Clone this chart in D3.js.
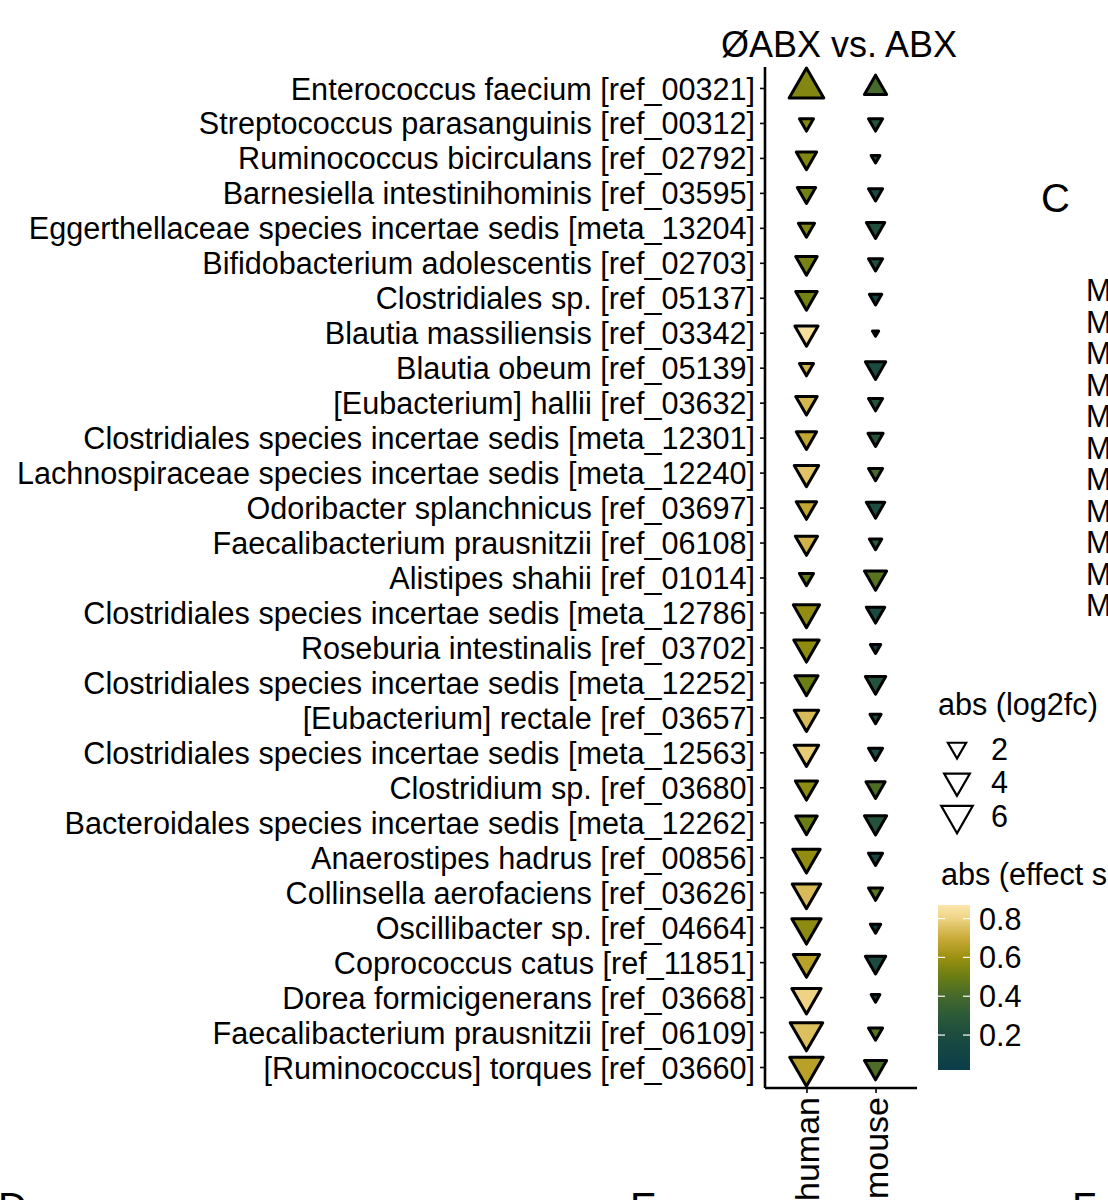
<!DOCTYPE html>
<html>
<head>
<meta charset="utf-8">
<script src="https://cdn.jsdelivr.net/npm/d3@7"></script>
<style>
  html, body { margin: 0; padding: 0; background: #fff; }
  svg text { font-family: "Liberation Sans", Arial, Helvetica, sans-serif; fill: #000; }
</style>
</head>
<body>
<svg id="chart" width="1108" height="1200"></svg>
<script>
// ---------------- data ----------------
const taxa = [
  "Enterococcus faecium [ref_00321]",
  "Streptococcus parasanguinis [ref_00312]",
  "Ruminococcus bicirculans [ref_02792]",
  "Barnesiella intestinihominis [ref_03595]",
  "Eggerthellaceae species incertae sedis [meta_13204]",
  "Bifidobacterium adolescentis [ref_02703]",
  "Clostridiales sp. [ref_05137]",
  "Blautia massiliensis [ref_03342]",
  "Blautia obeum [ref_05139]",
  "[Eubacterium] hallii [ref_03632]",
  "Clostridiales species incertae sedis [meta_12301]",
  "Lachnospiraceae species incertae sedis [meta_12240]",
  "Odoribacter splanchnicus [ref_03697]",
  "Faecalibacterium prausnitzii [ref_06108]",
  "Alistipes shahii [ref_01014]",
  "Clostridiales species incertae sedis [meta_12786]",
  "Roseburia intestinalis [ref_03702]",
  "Clostridiales species incertae sedis [meta_12252]",
  "[Eubacterium] rectale [ref_03657]",
  "Clostridiales species incertae sedis [meta_12563]",
  "Clostridium sp. [ref_03680]",
  "Bacteroidales species incertae sedis [meta_12262]",
  "Anaerostipes hadrus [ref_00856]",
  "Collinsella aerofaciens [ref_03626]",
  "Oscillibacter sp. [ref_04664]",
  "Coprococcus catus [ref_11851]",
  "Dorea formicigenerans [ref_03668]",
  "Faecalibacterium prausnitzii [ref_06109]",
  "[Ruminococcus] torques [ref_03660]"
];
const hosts = ["human", "mouse"];

// log2 fold change (sign gives triangle direction)
const humanLog2fc = [7.8,-1.3,-2.7,-2.2,-1.7,-3.0,-3.0,-3.5,-1.3,-3.0,-2.7,-3.9,-2.7,-3.2,-1.3,-4.5,-4.2,-3.5,-3.9,-3.9,-3.2,-3.0,-4.9,-5.3,-5.6,-4.5,-5.6,-6.9,-7.3];
const mouseLog2fc = [3.2,-1.3,-0.5,-1.3,-2.2,-1.3,-1.0,-0.25,-2.7,-1.3,-1.5,-1.3,-2.2,-1.0,-3.2,-2.2,-0.7,-2.7,-0.8,-1.3,-2.4,-3.2,-1.3,-1.3,-0.7,-2.7,-0.5,-1.3,-3.2];

// absolute effect size
const humanEffect = [0.55,0.55,0.55,0.52,0.55,0.53,0.52,0.84,0.72,0.73,0.68,0.76,0.68,0.72,0.48,0.58,0.57,0.50,0.74,0.78,0.57,0.50,0.58,0.74,0.57,0.66,0.80,0.75,0.66];
const mouseEffect = [0.40,0.25,0.20,0.17,0.22,0.22,0.10,0.07,0.18,0.25,0.26,0.40,0.20,0.30,0.45,0.17,0.08,0.24,0.20,0.17,0.42,0.25,0.15,0.45,0.05,0.18,0.10,0.45,0.42];

const sizeBreaks = [2, 4, 6];
const colorTicks = [0.2, 0.4, 0.6, 0.8];
const colorStops = [0.02, 0.2, 0.3, 0.4, 0.5, 0.6, 0.7, 0.8, 0.87];
const colorRange = ["#0b3d4a","#1d4c40","#2b5a38","#46692c","#6a7e14","#9c9010","#caab3a","#eed384","#fbe6ae"];
const rightLabels = ["M","M","M","M","M","M","M","M","M","M","M"];
const panelLetters = ["C", "D", "E", "F"];

// ---------------- build ----------------
const rows = [];
taxa.forEach((t, i) => {
  rows.push({taxon: t, host: "human", lfc: humanLog2fc[i], eff: humanEffect[i]});
  rows.push({taxon: t, host: "mouse", lfc: mouseLog2fc[i], eff: mouseEffect[i]});
});

const svg = d3.select("#chart");
const panel = {left: 765, right: 917, top: 67, bottom: 1088};
const FS = "30.6px";

const y = d3.scalePoint().domain(taxa).range([panel.top, panel.bottom]).padding(0.6);
const x = d3.scalePoint().domain(hosts).range([panel.left, panel.right]).padding(0.6);
const side = d3.scaleSqrt().domain([0, 8]).range([0, 12.4 * Math.sqrt(8)]);
const area = v => Math.sqrt(3) / 4 * Math.pow(side(Math.abs(v)), 2);
const color = d3.scaleLinear().domain(colorStops).range(colorRange).interpolate(d3.interpolateRgb).clamp(true);

// title
svg.append("text").attr("x", 839).attr("y", 57).attr("text-anchor", "middle")
  .style("font-size", "36px").text("ØABX vs. ABX");

// y axis
const yAxis = d3.axisLeft(y).tickSize(5).tickPadding(5);
const gy = svg.append("g").attr("transform", `translate(${panel.left},0)`).call(yAxis);
gy.select(".domain").attr("d", `M0,${panel.top}V${panel.bottom}`).attr("stroke", "#000").attr("stroke-width", 2.6);
gy.selectAll(".tick line").attr("stroke", "#000").attr("stroke-width", 1.6);
gy.selectAll(".tick text").style("font-size", FS).style("font-family", "'Liberation Sans', Arial, sans-serif").attr("fill", "#000").attr("dy", "0.36em");

// x axis
const xAxis = d3.axisBottom(x).tickSize(5).tickPadding(4);
const gx = svg.append("g").attr("transform", `translate(0,${panel.bottom})`).call(xAxis);
gx.select(".domain").attr("d", `M${panel.left},0H${panel.right}`).attr("stroke", "#000").attr("stroke-width", 2.6);
gx.selectAll(".tick line").attr("stroke", "#000").attr("stroke-width", 1.6);
gx.selectAll(".tick text")
  .style("font-size", "34px").style("font-family", "'Liberation Sans', Arial, sans-serif").attr("fill", "#000")
  .attr("text-anchor", "end").attr("dy", "0.36em")
  .attr("transform", "translate(0,9) rotate(-90)").attr("x", 0).attr("y", 0);

// points
svg.append("g").selectAll("path").data(rows).join("path")
  .attr("d", d => d3.symbol().type(d3.symbolTriangle).size(area(d.lfc))())
  .attr("transform", d => `translate(${x(d.host)},${y(d.taxon)}) rotate(${d.lfc < 0 ? 180 : 0})`)
  .attr("fill", d => color(d.eff))
  .attr("stroke", "#000").attr("stroke-width", 3).attr("stroke-linejoin", "round");

// size legend
const lg = svg.append("g");
lg.append("text").attr("x", 938).attr("y", 715).style("font-size", FS).text("abs (log2fc)");
const legendY = [748, 781, 815];
sizeBreaks.forEach((v, i) => {
  lg.append("path")
    .attr("d", d3.symbol().type(d3.symbolTriangle).size(area(v) * 1.08)())
    .attr("transform", `translate(957,${legendY[i]}) rotate(180)`)
    .attr("fill", "#fff").attr("stroke", "#000").attr("stroke-width", 2.2);
  lg.append("text").attr("x", 991).attr("y", legendY[i] + 1).attr("dy", "0.36em")
    .style("font-size", FS).text(v);
});

// color legend
lg.append("text").attr("x", 941).attr("y", 885).style("font-size", FS).text("abs (effect size)");
const cb = {x: 938, w: 32, top: 905, bottom: 1070};
const cy = d3.scaleLinear().domain([colorStops[0], colorStops[colorStops.length - 1]]).range([cb.bottom, cb.top]);
const defs = svg.append("defs");
const grad = defs.append("linearGradient").attr("id", "cbar").attr("x1", 0).attr("y1", 1).attr("x2", 0).attr("y2", 0);
d3.range(0, 1.0001, 0.02).forEach(t => {
  const v = cy.invert(cb.bottom - t * (cb.bottom - cb.top));
  grad.append("stop").attr("offset", t).attr("stop-color", color(v));
});
lg.append("rect").attr("x", cb.x).attr("y", cb.top).attr("width", cb.w).attr("height", cb.bottom - cb.top).attr("fill", "url(#cbar)");
colorTicks.forEach(v => {
  lg.append("line").attr("x1", cb.x + cb.w - 7).attr("x2", cb.x + cb.w).attr("y1", cy(v)).attr("y2", cy(v))
    .attr("stroke", "#fff").attr("stroke-width", 1.2);
  lg.append("line").attr("x1", cb.x).attr("x2", cb.x + 7).attr("y1", cy(v)).attr("y2", cy(v))
    .attr("stroke", "#fff").attr("stroke-width", 1.2);
  lg.append("text").attr("x", 979).attr("y", cy(v)).attr("dy", "0.36em").style("font-size", FS).text(v.toFixed(1));
});

// neighbouring panel fragments
svg.append("text").attr("x", 1041).attr("y", 212).style("font-size", "40px").text(panelLetters[0]);
rightLabels.forEach((m, i) => {
  svg.append("text").attr("x", 1086).attr("y", 301 + i * 31.5).style("font-size", FS).text(m);
});
svg.append("text").attr("x", -2).attr("y", 1221).style("font-size", "40px").text(panelLetters[1]);
svg.append("text").attr("x", 630).attr("y", 1221).style("font-size", "40px").text(panelLetters[2]);
svg.append("text").attr("x", 1072).attr("y", 1221).style("font-size", "40px").text(panelLetters[3]);
</script>
</body>
</html>
